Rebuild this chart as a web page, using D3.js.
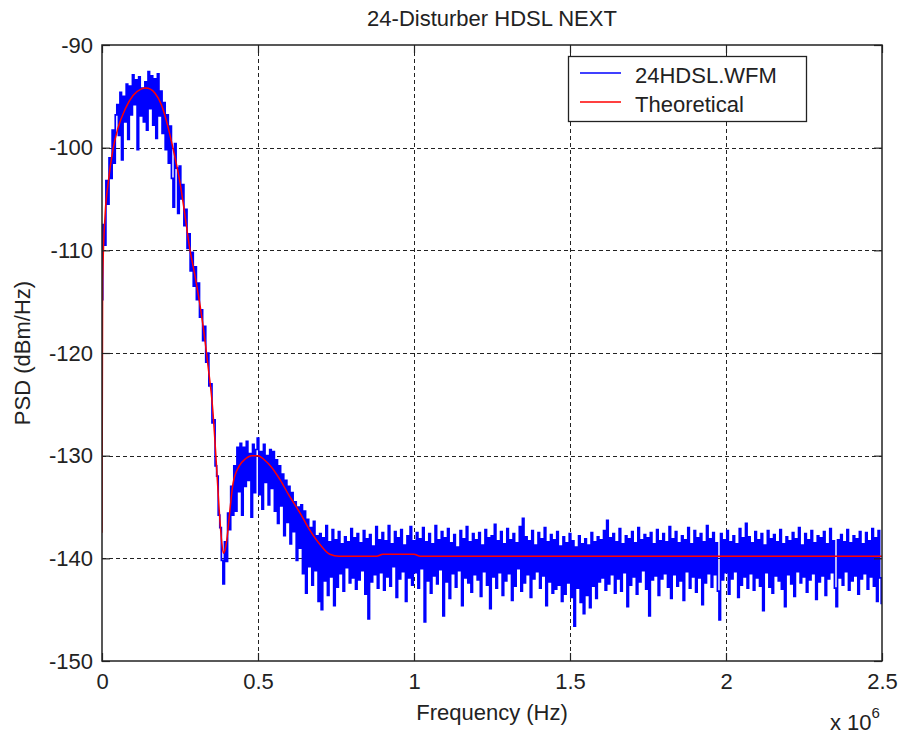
<!DOCTYPE html>
<html><head><meta charset="utf-8">
<script src="https://cdn.jsdelivr.net/npm/d3@7"></script>
<style>
body{margin:0;background:#fff}
text{font-family:Arial,"Liberation Sans",sans-serif;fill:#222}
</style>
</head><body>
<svg id="chart" width="900" height="738"></svg>
<script>
// ---------- data ----------
const chartTitle = "24-Disturber HDSL NEXT";
const xLabel = "Frequency (Hz)";
const yLabel = "PSD (dBm/Hz)";
const seriesNames = ["24HDSL.WFM", "Theoretical"];
const xTickValues = [0, 0.5e6, 1e6, 1.5e6, 2e6, 2.5e6];
const xTickLabels = ["0", "0.5", "1", "1.5", "2", "2.5"];
const yTickValues = [-150, -140, -130, -120, -110, -100, -90];
const yTickLabels = ["-150", "-140", "-130", "-120", "-110", "-100", "-90"];

// Theoretical curve (frequency in MHz, PSD in dBm/Hz)
const theoFreqMHz = [0, 0.002, 0.01, 0.02, 0.035, 0.05, 0.075, 0.1, 0.125, 0.14, 0.155, 0.17, 0.19, 0.21, 0.23, 0.25,
  0.265, 0.28, 0.3, 0.315, 0.325, 0.34, 0.355, 0.365, 0.375, 0.383, 0.389, 0.393, 0.40, 0.41, 0.42, 0.44, 0.46, 0.48,
  0.50, 0.52, 0.54, 0.57, 0.60, 0.635, 0.665, 0.70, 0.73, 0.76, 0.88, 0.9, 1.0, 1.02, 1.5, 2.0, 2.5];
const theoPSD = [-137.5, -113, -106.5, -103.4, -100.2, -98.2, -96.2, -94.9, -94.3, -94.2, -94.3, -94.7, -95.8, -97.8, -100.4, -103.4,
  -106.4, -109.6, -112.8, -115.5, -117.6, -121.3, -125.5, -130.0, -135.0, -138.2, -139.5, -139.3, -138.2, -135.3, -132.7, -131.0, -130.3, -130.0,
  -130.0, -130.4, -131.0, -132.3, -133.9, -135.6, -137.2, -138.7, -139.6, -139.8, -139.8, -139.6, -139.6, -139.8, -139.8, -139.8, -139.8];

// Measured waveform PSD, sampled every 5 kHz from 0 to 2.5 MHz
const measStepMHz = 0.005;
const measPSD = [
  -114.8, -107.5, -109.5, -103.2, -105.5, -101.0, -103.0, -98.3, -101.5, -96.8,
  -95.8, -98.8, -94.6, -101.2, -95.0, -97.5, -93.8, -99.2, -94.0, -96.8,
  -92.9, -95.8, -93.4, -100.2, -93.1, -96.9, -94.2, -97.5, -93.6, -98.3,
  -92.6, -96.2, -93.0, -97.8, -93.3, -99.1, -92.8, -96.9, -94.5, -98.6,
  -95.6, -100.2, -96.8, -101.5, -97.9, -103.0, -105.8, -99.6, -102.0, -106.4,
  -101.8, -105.0, -103.6, -107.6, -106.0, -109.8, -108.4, -112.0, -110.2, -113.5,
  -111.6, -114.8, -113.2, -116.5, -115.8, -118.8, -117.4, -120.9, -120.0, -123.2,
  -123.0, -126.8, -126.5, -131.0, -132.0, -135.8, -137.0, -140.2, -142.5, -138.4,
  -140.3, -135.6, -137.2, -133.0, -135.8, -131.0, -135.4, -129.2, -133.5, -128.8,
  -135.8, -129.2, -133.0, -128.6, -132.4, -129.8, -136.0, -128.9, -133.6, -129.4,
  -128.3, -133.8, -129.6, -135.2, -128.9, -132.6, -130.0, -134.8, -129.4, -133.2,
  -129.6, -135.4, -130.4, -136.6, -131.0, -134.9, -131.8, -137.8, -132.4, -136.5,
  -133.0, -138.6, -133.6, -137.4, -134.5, -140.2, -135.0, -139.0, -134.8, -141.5,
  -135.4, -143.4, -136.2, -140.8, -137.0, -142.6, -136.4, -141.2, -137.8, -144.2,
  -137.6, -145.0, -138.0, -142.2, -136.8, -143.6, -138.4, -141.8, -137.2, -144.6,
  -138.2, -142.8, -137.4, -141.5, -138.6, -143.2, -137.9, -140.9, -138.4, -142.4,
  -137.1, -141.9, -138.0, -143.0, -137.6, -142.1, -138.5, -141.2, -137.3, -143.5,
  -138.1, -145.9, -137.7, -142.3, -138.8, -141.6, -136.9, -142.9, -138.2, -141.4,
  -137.5, -143.1, -138.3, -141.8, -136.8, -142.7, -138.6, -140.8, -137.4, -143.8,
  -138.0, -142.0, -137.2, -141.3, -138.7, -144.2, -137.8, -141.9, -136.9, -142.6,
  -138.3, -141.4, -137.5, -142.9, -138.1, -141.0, -137.0, -146.2, -138.4, -142.2,
  -137.6, -143.4, -138.6, -141.7, -136.8, -142.5, -138.2, -141.1, -137.4, -145.6,
  -138.0, -142.3, -137.1, -143.9, -138.5, -141.5, -137.7, -142.8, -138.9, -141.2,
  -137.3, -144.6, -138.1, -141.9, -136.9, -142.4, -138.4, -143.3, -137.6, -141.6,
  -138.2, -142.1, -137.5, -143.7, -138.7, -141.3, -137.2, -142.6, -138.0, -144.9,
  -137.8, -141.8, -136.7, -142.9, -138.3, -141.4, -137.4, -143.6, -138.6, -142.2,
  -137.1, -141.5, -138.2, -144.1, -137.6, -142.7, -138.5, -141.0, -136.9, -143.2,
  -136.1, -142.4, -137.9, -141.6, -138.3, -143.8, -137.3, -142.0, -138.7, -141.3,
  -137.5, -142.9, -138.1, -141.7, -137.0, -144.6, -138.4, -142.3, -137.7, -143.4,
  -138.2, -143.0, -137.4, -142.6, -138.8, -144.2, -137.9, -143.5, -138.5, -142.4,
  -137.6, -143.8, -138.3, -146.6, -138.9, -142.9, -137.8, -144.3, -138.6, -145.4,
  -138.1, -143.6, -138.7, -144.8, -137.5, -142.7, -138.4, -143.9, -137.9, -142.3,
  -138.2, -141.9, -137.3, -143.1, -136.3, -142.5, -138.0, -141.6, -137.6, -143.4,
  -138.4, -142.0, -137.1, -143.2, -138.6, -141.4, -137.8, -144.7, -138.1, -142.6,
  -137.4, -141.8, -138.5, -143.5, -137.0, -142.3, -138.2, -141.2, -137.7, -143.0,
  -138.0, -145.6, -137.5, -142.1, -138.6, -141.7, -137.2, -143.6, -138.3, -142.0,
  -137.6, -141.5, -138.4, -142.8, -136.9, -143.9, -138.1, -141.6, -137.4, -142.7,
  -138.5, -142.2, -137.8, -144.1, -138.2, -141.3, -137.0, -142.9, -138.6, -141.8,
  -137.3, -143.3, -138.0, -141.9, -137.6, -144.5, -138.4, -142.4, -136.8, -141.5,
  -138.1, -142.8, -137.5, -141.6, -138.5, -143.2, -146.0, -137.6, -142.1, -138.2,
  -141.4, -137.3, -143.5, -138.4, -142.0, -137.8, -141.3, -138.6, -143.8, -137.1,
  -142.6, -138.0, -141.8, -136.6, -142.9, -137.9, -141.5, -138.5, -143.1, -137.4,
  -141.9, -138.2, -142.7, -137.6, -145.1, -138.7, -141.4, -137.3, -142.8, -138.1,
  -143.4, -137.7, -141.7, -138.4, -142.2, -137.2, -143.0, -138.6, -144.7, -137.9,
  -141.6, -138.3, -142.5, -137.5, -143.7, -138.1, -141.3, -137.0, -142.4, -138.7,
  -141.8, -137.6, -143.3, -138.2, -142.1, -137.3, -141.5, -138.5, -144.0, -137.8,
  -142.3, -138.0, -141.7, -137.4, -143.6, -138.6, -142.0, -137.1, -141.4, -138.3,
  -142.9, -144.7, -138.2, -141.9, -137.7, -142.6, -138.4, -141.3, -137.2, -143.1,
  -138.5, -142.2, -137.8, -141.7, -138.1, -143.5, -137.4, -142.0, -138.6, -141.5,
  -137.5, -143.0, -138.3, -141.8, -137.1, -142.7, -138.0, -144.2, -137.3, -141.9,
  -144.4
];

// ---------- layout ----------
const svg = d3.select("#chart");
const pLeft = 102, pRight = 882, pTop = 45, pBottom = 661;
const W = pRight - pLeft, H = pBottom - pTop;

svg.append("rect").attr("width", 900).attr("height", 738).attr("fill", "#fff");

const x = d3.scaleLinear().domain([0, 2.5e6]).range([pLeft, pRight]);
const y = d3.scaleLinear().domain([-150, -90]).range([pBottom, pTop]);

// grid
const grid = svg.append("g").attr("stroke", "#222").attr("stroke-width", 1).attr("stroke-dasharray", "4,3");
grid.selectAll("line.v").data(xTickValues.slice(1, -1)).join("line").attr("class", "v")
  .attr("x1", d => Math.round(x(d)) + 0.5).attr("x2", d => Math.round(x(d)) + 0.5)
  .attr("y1", pTop).attr("y2", pBottom);
grid.selectAll("line.h").data(yTickValues.slice(1, -1)).join("line").attr("class", "h")
  .attr("y1", d => Math.round(y(d)) + 0.5).attr("y2", d => Math.round(y(d)) + 0.5)
  .attr("x1", pLeft).attr("x2", pRight);

// data lines
svg.append("clipPath").attr("id", "clip").append("rect")
  .attr("x", pLeft).attr("y", pTop).attr("width", W).attr("height", H);

const measData = measPSD.map((v, i) => ({ f: i * measStepMHz * 1e6, v }));
const theoData = theoFreqMHz.map((f, i) => ({ f: f * 1e6, v: theoPSD[i] }));

const plot = svg.append("g").attr("clip-path", "url(#clip)");
plot.append("path").datum(measData)
  .attr("d", d3.line().x(d => x(d.f)).y(d => y(d.v)).curve(d3.curveStep))
  .attr("fill", "none").attr("stroke", "#0000ff").attr("stroke-width", 1.7);
plot.append("path").datum(theoData)
  .attr("d", d3.line().x(d => x(d.f)).y(d => y(d.v)).curve(d3.curveMonotoneX))
  .attr("fill", "none").attr("stroke", "#ff0000").attr("stroke-width", 1.5);

// axes
const tickStyle = g => {
  g.select(".domain").remove();
  g.selectAll(".tick line").attr("stroke", "#222").attr("stroke-width", 1.2);
  g.selectAll(".tick text").attr("font-size", 22).attr("fill", "#222")
    .attr("font-family", "Arial, 'Liberation Sans', sans-serif");
};
svg.append("g").attr("transform", `translate(0,${pBottom})`)
  .call(d3.axisBottom(x).tickValues(xTickValues).tickFormat((d, i) => xTickLabels[i]).tickSize(-8).tickPadding(12))
  .call(tickStyle);
svg.append("g").attr("transform", `translate(0,${pTop})`)
  .call(d3.axisTop(x).tickValues(xTickValues).tickFormat("").tickSize(-8))
  .call(tickStyle);
svg.append("g").attr("transform", `translate(${pLeft},0)`)
  .call(d3.axisLeft(y).tickValues(yTickValues).tickFormat((d, i) => yTickLabels[i]).tickSize(-8).tickPadding(9))
  .call(tickStyle);
svg.append("g").attr("transform", `translate(${pRight},0)`)
  .call(d3.axisRight(y).tickValues(yTickValues).tickFormat("").tickSize(-8))
  .call(tickStyle);

// box
svg.append("rect").attr("x", pLeft).attr("y", pTop).attr("width", W).attr("height", H)
  .attr("fill", "none").attr("stroke", "#222").attr("stroke-width", 1.5);

// titles
svg.append("text").attr("x", (pLeft + pRight) / 2).attr("y", 26).attr("text-anchor", "middle")
  .attr("font-size", 22).text(chartTitle);
svg.append("text").attr("x", (pLeft + pRight) / 2).attr("y", 720).attr("text-anchor", "middle")
  .attr("font-size", 22).text(xLabel);
svg.append("text").attr("transform", `translate(30,${(pTop + pBottom) / 2}) rotate(-90)`)
  .attr("text-anchor", "middle").attr("font-size", 22).text(yLabel);

// exponent
const expo = svg.append("text").attr("x", 830).attr("y", 730).attr("font-size", 22);
expo.append("tspan").text("x 10");
expo.append("tspan").attr("font-size", 15).attr("dy", -12).text("6");

// legend
const lg = svg.append("g");
lg.append("rect").attr("x", 568.5).attr("y", 56.5).attr("width", 238).attr("height", 65)
  .attr("fill", "#fff").attr("stroke", "#222").attr("stroke-width", 1.3);
const legendColors = ["#0000ff", "#ff0000"];
seriesNames.forEach((name, i) => {
  const ly = 73 + i * 29;
  lg.append("line").attr("x1", 580).attr("x2", 621).attr("y1", ly).attr("y2", ly)
    .attr("stroke", legendColors[i]).attr("stroke-width", 1.5);
  lg.append("text").attr("x", 635).attr("y", ly + 10).attr("font-size", 22).text(name);
});
</script>
</body></html>
